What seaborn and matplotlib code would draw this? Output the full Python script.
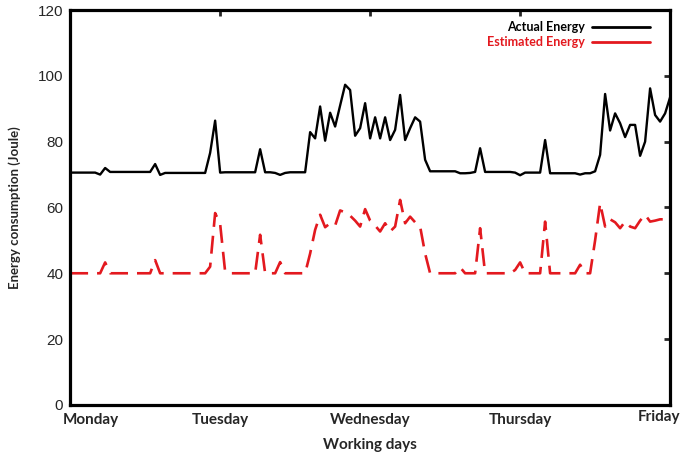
import numpy as np
import pandas as pd
import matplotlib
matplotlib.use("Agg")
import matplotlib.pyplot as plt
import matplotlib.transforms as mtransforms
import seaborn as sns

# Dados (121 amostras de segunda a sexta)
dias = ["Monday", "Tuesday", "Wednesday", "Thursday", "Friday"]

actual_energy = [
    70.6, 70.6, 70.6, 70.6, 70.6, 70.6, 70.0, 72.0, 70.8, 70.8,
    70.8, 70.8, 70.8, 70.8, 70.8, 70.8, 70.8, 73.2, 69.9, 70.5,
    70.5, 70.5, 70.5, 70.5, 70.5, 70.5, 70.5, 70.5, 76.6, 86.4,
    70.6, 70.7, 70.7, 70.7, 70.7, 70.7, 70.7, 70.7, 77.7, 70.7,
    70.7, 70.5, 69.9, 70.5, 70.7, 70.7, 70.7, 70.7, 82.9, 81.0,
    90.7, 80.3, 88.8, 84.6, 91.0, 97.3, 95.7, 81.8, 84.1, 91.7,
    81.0, 87.4, 81.0, 87.4, 80.5, 83.6, 94.2, 80.5, 84.1, 87.4,
    86.1, 74.5, 71.0, 71.0, 71.0, 71.0, 71.0, 71.0, 70.4, 70.4,
    70.5, 70.8, 78.0, 70.8, 70.8, 70.8, 70.8, 70.8, 70.8, 70.6,
    69.8, 70.6, 70.6, 70.6, 70.6, 80.5, 70.4, 70.4, 70.4, 70.4,
    70.4, 70.4, 70.0, 70.4, 70.4, 71.0, 76.0, 94.5, 83.4, 88.6,
    85.6, 81.4, 85.1, 85.1, 75.7, 80.0, 96.2, 88.1, 86.1, 88.6,
    93.5,
]

estimated_energy = [
    40.0, 40.0, 40.0, 40.0, 40.0, 40.0, 40.0, 43.3, 40.0, 40.0,
    40.0, 40.0, 40.0, 40.0, 40.0, 40.0, 40.0, 44.0, 40.0, 40.0,
    40.0, 40.0, 40.0, 40.0, 40.0, 40.0, 40.0, 40.0, 42.0, 58.3,
    55.0, 40.5, 40.0, 40.0, 40.0, 40.0, 40.0, 40.0, 51.7, 40.0,
    40.0, 40.0, 43.4, 40.0, 40.0, 40.0, 40.0, 40.0, 46.0, 53.2,
    57.8, 54.0, 55.2, 54.5, 59.1, 58.5, 57.5, 56.0, 54.2, 59.5,
    56.0, 54.5, 52.7, 55.2, 52.7, 54.2, 62.3, 55.2, 57.2, 55.5,
    54.2, 46.0, 40.0, 40.0, 40.0, 40.0, 40.0, 40.0, 41.8, 40.0,
    40.0, 40.0, 53.7, 40.0, 40.0, 40.0, 40.0, 40.0, 40.0, 41.0,
    43.3, 40.0, 40.0, 40.0, 40.0, 55.7, 40.0, 40.0, 40.0, 40.0,
    40.0, 40.0, 42.6, 40.0, 40.0, 50.0, 61.3, 54.2, 56.4, 55.5,
    53.7, 55.7, 54.2, 53.7, 56.0, 57.8, 55.7, 56.0, 56.4, 56.4,
    56.5,
]

y_ticks = [0, 20, 40, 60, 80, 100, 120]

sns.set_style("white")
plt.rcParams['font.family'] = ['Liberation Sans', 'DejaVu Sans']

df = pd.DataFrame({
    "t": np.linspace(0, len(dias) - 1, len(actual_energy)),
    "actual": actual_energy,
    "estimated": estimated_energy,
})

fig = plt.figure(figsize=(6.81, 4.58), dpi=100)
ax = fig.add_axes([0.103, 0.116, 0.881, 0.862])

sns.lineplot(data=df, x="t", y="actual", ax=ax, color="black", lw=1.7,
             label="Actual Energy")
sns.lineplot(data=df, x="t", y="estimated", ax=ax, color="#e3191f", lw=1.9,
             linestyle=(0, (6.8, 3.4)), label="Estimated Energy")

ax.set_xlim(0, len(dias) - 1)
ax.set_ylim(0, 120)
ax.set_yticks(y_ticks)
ax.set_xticks(range(len(dias)))
ax.set_xticklabels(dias, fontfamily="Lato", fontweight="bold", fontsize=11)
ax.tick_params(axis="y", labelsize=11, pad=5)
ax.tick_params(axis="x", pad=6)
ax.tick_params(direction="in", length=4, width=2, top=True, right=True,
               labeltop=False, labelright=False)

# Monday e Friday ficam dentro da figura
labels = ax.get_xticklabels()
labels[0].set_ha("left")
labels[0].set_transform(labels[0].get_transform() +
                        mtransforms.ScaledTranslation(-0.07, 0, fig.dpi_scale_trans))
labels[-1].set_ha("right")
labels[-1].set_transform(labels[-1].get_transform() +
                         mtransforms.ScaledTranslation(0.10, 0.03, fig.dpi_scale_trans))

for s in ax.spines.values():
    s.set_linewidth(2.3)
    s.set_color("black")

ax.set_xlabel("Working days", fontfamily="Lato", fontweight="bold", fontsize=11, labelpad=8)
ax.set_ylabel("Energy consumption (Joule)", fontfamily="Lato", fontweight="bold",
              fontsize=9.5, labelpad=12)

leg = ax.legend(loc="upper right", frameon=False, markerfirst=False,
                prop={"family": "Lato", "weight": "bold", "size": 9},
                handlelength=4.6, handletextpad=0.6, labelspacing=0.25,
                bbox_to_anchor=(0.985, 1.0))
for txt, line in zip(leg.get_texts(), leg.get_lines()):
    txt.set_color(line.get_color())
    line.set_linestyle("-")
    line.set_linewidth(2)

fig.savefig("out.png", dpi=100)
